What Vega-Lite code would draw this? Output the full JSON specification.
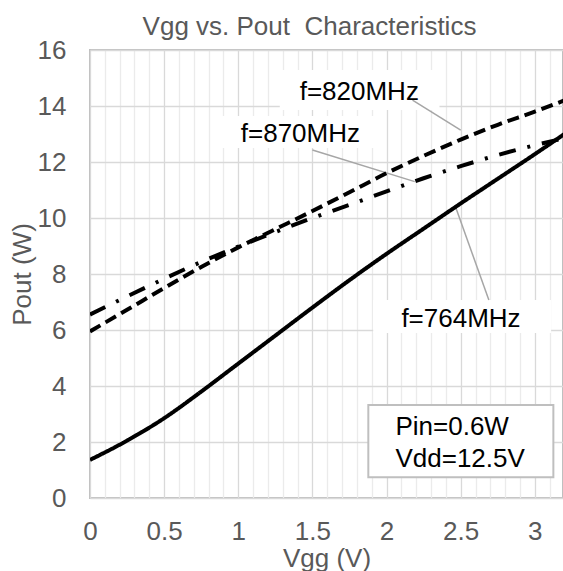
{
  "$schema": "https://vega.github.io/schema/vega-lite/v6.json",
  "width": 473,
  "height": 448,
  "autosize": {"type": "none"},
  "padding": {"left": 90, "top": 50, "right": 0, "bottom": 73},
  "background": "white",
  "config": {
    "font": "Liberation Sans",
    "view": {"stroke": "#bfbfbf", "strokeWidth": 2}
  },
  "title": {
    "text": "Vgg vs. Pout\u00a0 Characteristics",
    "anchor": "middle",
    "dx": -17,
    "offset": -3,
    "fontSize": 26,
    "fontWeight": "normal",
    "color": "#595959",
    "font": "Liberation Sans"
  },
  "datasets": {
    "curves": [
      {"series": "764", "x": 0, "y": 1.36},
      {"series": "764", "x": 0.25, "y": 2.05},
      {"series": "764", "x": 0.5, "y": 2.85},
      {"series": "764", "x": 0.75, "y": 3.8},
      {"series": "764", "x": 1.0, "y": 4.8},
      {"series": "764", "x": 1.25, "y": 5.8},
      {"series": "764", "x": 1.5, "y": 6.8},
      {"series": "764", "x": 1.75, "y": 7.78},
      {"series": "764", "x": 2.0, "y": 8.72},
      {"series": "764", "x": 2.25, "y": 9.62},
      {"series": "764", "x": 2.5, "y": 10.52},
      {"series": "764", "x": 2.75, "y": 11.4},
      {"series": "764", "x": 3.0, "y": 12.28},
      {"series": "764", "x": 3.2, "y": 13.0},
      {"series": "820", "x": 0, "y": 5.95},
      {"series": "820", "x": 0.25, "y": 6.72},
      {"series": "820", "x": 0.5, "y": 7.5},
      {"series": "820", "x": 0.75, "y": 8.25},
      {"series": "820", "x": 1.0, "y": 8.95},
      {"series": "820", "x": 1.25, "y": 9.6},
      {"series": "820", "x": 1.5, "y": 10.25},
      {"series": "820", "x": 1.75, "y": 10.92},
      {"series": "820", "x": 2.0, "y": 11.6},
      {"series": "820", "x": 2.25, "y": 12.22},
      {"series": "820", "x": 2.5, "y": 12.8},
      {"series": "820", "x": 2.75, "y": 13.33},
      {"series": "820", "x": 3.0, "y": 13.8},
      {"series": "820", "x": 3.2, "y": 14.2},
      {"series": "870", "x": 0, "y": 6.55},
      {"series": "870", "x": 0.25, "y": 7.2},
      {"series": "870", "x": 0.5, "y": 7.83},
      {"series": "870", "x": 0.75, "y": 8.43},
      {"series": "870", "x": 1.0, "y": 8.98},
      {"series": "870", "x": 1.25, "y": 9.5},
      {"series": "870", "x": 1.5, "y": 10.0},
      {"series": "870", "x": 1.75, "y": 10.47},
      {"series": "870", "x": 2.0, "y": 10.95},
      {"series": "870", "x": 2.25, "y": 11.42},
      {"series": "870", "x": 2.5, "y": 11.85},
      {"series": "870", "x": 2.75, "y": 12.25},
      {"series": "870", "x": 3.0, "y": 12.6},
      {"series": "870", "x": 3.2, "y": 12.85}
    ],
    "boxes": [
      {"kind": "label", "x1": 1.28, "x2": 2.357, "y1": 13.86, "y2": 15.29},
      {"kind": "label", "x1": 0.875, "x2": 1.97, "y1": 12.5, "y2": 13.64},
      {"kind": "label", "x1": 1.91, "x2": 3.11, "y1": 5.89, "y2": 7.07},
      {"kind": "legend", "x1": 1.877, "x2": 3.125, "y1": 0.74, "y2": 3.32}
    ],
    "leaders": [
      {"x1": 2.175, "y1": 14.21, "x2": 2.5, "y2": 13.14},
      {"x1": 1.5, "y1": 12.43, "x2": 2.19, "y2": 11.3},
      {"x1": 2.465, "y1": 10.4, "x2": 2.69, "y2": 7.07}
    ],
    "labels": [
      {"text": "f=820MHz", "x": 1.414, "y": 14.21},
      {"text": "f=870MHz", "x": 1.017, "y": 12.71},
      {"text": "f=764MHz", "x": 2.1, "y": 6.11},
      {"text": "Pin=0.6W", "x": 2.06, "y": 2.25},
      {"text": "Vdd=12.5V", "x": 2.06, "y": 1.107}
    ]
  },
  "encoding": {
    "x": {
      "type": "quantitative",
      "scale": {"domain": [0, 3.19], "nice": false, "zero": false},
      "axis": {
        "title": "Vgg (V)",
        "values": [0,0.1,0.2,0.3,0.4,0.5,0.6,0.7,0.8,0.9,1,1.1,1.2,1.3,1.4,1.5,1.6,1.7,1.8,1.9,2,2.1,2.2,2.3,2.4,2.5,2.6,2.7,2.8,2.9,3,3.1],
        "labelExpr": "abs(datum.value*2-round(datum.value*2))<0.001 ? format(datum.value, '.1~f') : ''",
        "grid": true,
        "gridColor": {"condition": {"test": "abs(datum.value*2-round(datum.value*2))<0.001", "value": "#d9d9d9"}, "value": "#ebebeb"},
        "gridWidth": 1.3,
        "domain": false,
        "ticks": false,
        "labelPadding": 20,
        "labelFontSize": 26,
        "labelColor": "#595959",
        "labelFont": "Liberation Sans",
        "labelFlush": false,
        "labelOverlap": false,
        "titleFontSize": 26,
        "titleFontWeight": "normal",
        "titleColor": "#595959",
        "titleFont": "Liberation Sans",
        "titlePadding": 1
      }
    },
    "y": {
      "type": "quantitative",
      "scale": {"domain": [0, 16], "nice": false},
      "axis": {
        "title": "Pout (W)",
        "values": [0,2,4,6,8,10,12,14,16],
        "grid": true,
        "gridColor": "#d9d9d9",
        "gridWidth": 1.3,
        "domain": false,
        "ticks": false,
        "labelPadding": 24,
        "labelFontSize": 26,
        "labelColor": "#595959",
        "labelFont": "Liberation Sans",
        "labelFlush": false,
        "titleFontSize": 26,
        "titleFontWeight": "normal",
        "titleColor": "#595959",
        "titleFont": "Liberation Sans",
        "titlePadding": 2
      }
    }
  },
  "layer": [
    {
      "data": {"name": "boxes"},
      "mark": {"type": "rect", "fill": "white"},
      "encoding": {
        "x": {"field": "x1", "type": "quantitative"},
        "x2": {"field": "x2"},
        "y": {"field": "y1", "type": "quantitative"},
        "y2": {"field": "y2"},
        "stroke": {"condition": {"test": "datum.kind === 'legend'", "value": "#bfbfbf"}, "value": null},
        "strokeWidth": {"value": 2}
      }
    },
    {
      "data": {"name": "leaders"},
      "mark": {"type": "rule", "color": "#a6a6a6", "strokeWidth": 1.5},
      "encoding": {
        "x": {"field": "x1", "type": "quantitative"},
        "y": {"field": "y1", "type": "quantitative"},
        "x2": {"field": "x2"},
        "y2": {"field": "y2"}
      }
    },
    {
      "data": {"name": "curves"},
      "mark": {"type": "line", "color": "black", "strokeWidth": 4, "clip": true, "interpolate": "monotone"},
      "encoding": {
        "x": {"field": "x", "type": "quantitative"},
        "y": {"field": "y", "type": "quantitative"},
        "detail": {"field": "series"},
        "strokeDash": {
          "field": "series",
          "type": "nominal",
          "scale": {"domain": ["764", "820", "870"], "range": [[1, 0], [12, 6], [17, 12, 3, 12]]},
          "legend": null
        }
      }
    },
    {
      "data": {"name": "labels"},
      "mark": {"type": "text", "align": "left", "baseline": "alphabetic", "fontSize": 26, "font": "Liberation Sans", "color": "black"},
      "encoding": {
        "x": {"field": "x", "type": "quantitative"},
        "y": {"field": "y", "type": "quantitative"},
        "text": {"field": "text"}
      }
    }
  ]
}
